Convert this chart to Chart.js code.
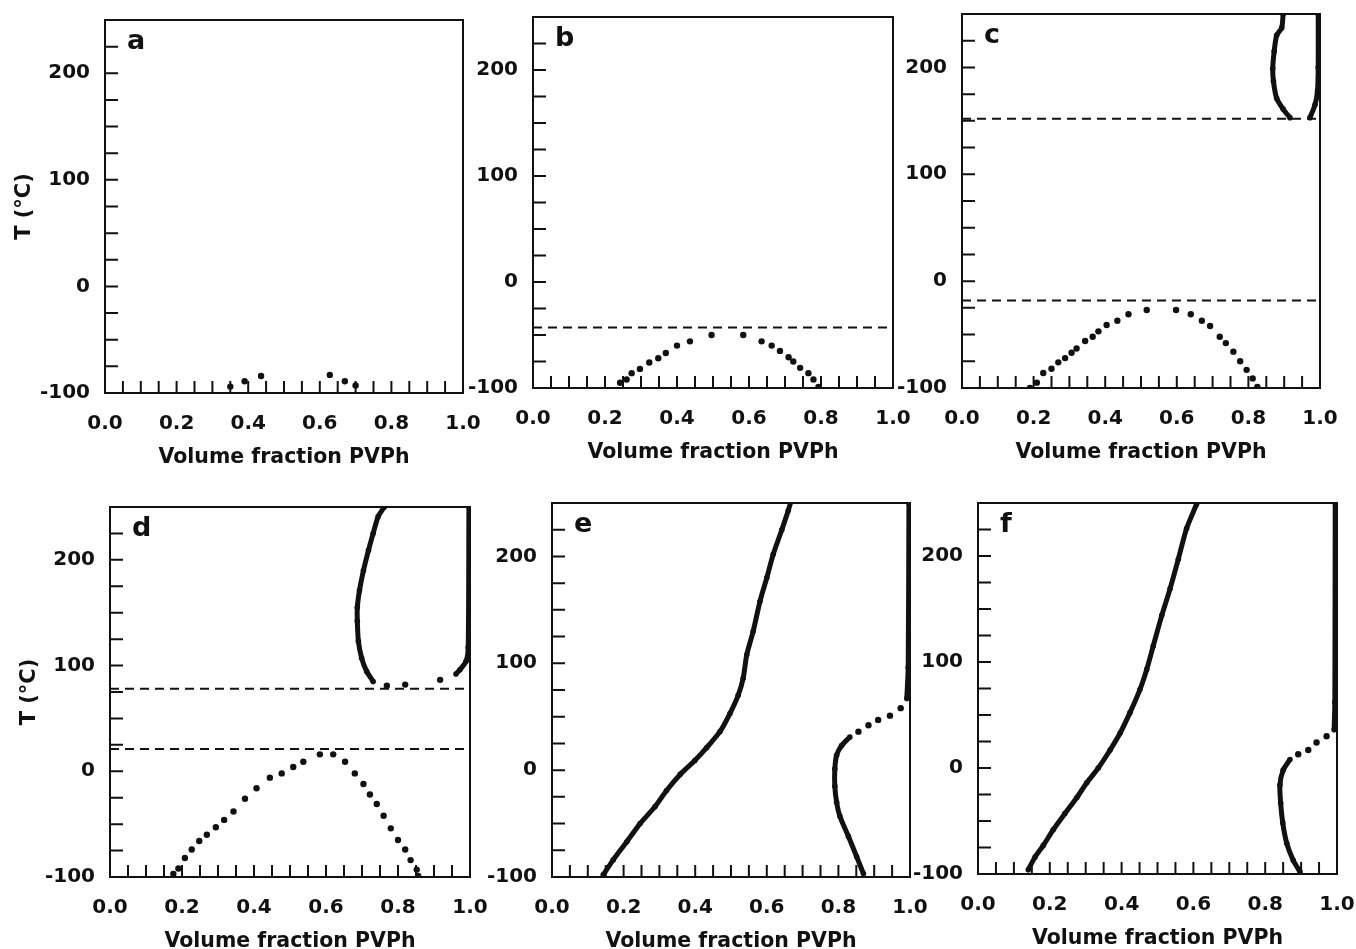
<!DOCTYPE html>
<html>
<head>
<meta charset="utf-8">
<style>
  html, body { margin: 0; padding: 0; background: #fff; width: 1356px; height: 949px; overflow: hidden; }
  canvas { position: absolute; }
</style>
</head>
<body>
<canvas id="pa"></canvas>
<canvas id="pb"></canvas>
<canvas id="pc"></canvas>
<canvas id="pd"></canvas>
<canvas id="pe"></canvas>
<canvas id="pf"></canvas>
<script src="https://cdn.jsdelivr.net/npm/chart.js"></script>
<script>
// values: [volume fraction PVPh, T in °C]
const aDots = [[0.35,-94],[0.39,-89],[0.436,-84],[0.628,-83],[0.67,-89],[0.70,-93]];

const bDots = [[0.242,-95],[0.26,-92],[0.274,-86],[0.297,-82],[0.323,-76],[0.348,-72],[0.369,-67],[0.40,-60],[0.436,-56],[0.496,-50],
  [0.584,-50],[0.635,-56],[0.663,-60],[0.686,-65],[0.71,-71],[0.723,-75],[0.742,-81],[0.765,-86],[0.779,-92],[0.793,-99]];
const bDash = [-43];

const cDots = [[0.19,-100],[0.209,-95],[0.227,-86],[0.25,-82],[0.269,-76],[0.288,-72],[0.306,-67],[0.32,-63],[0.344,-56],[0.365,-52],
  [0.381,-47],[0.404,-41],[0.434,-37],[0.465,-31],[0.516,-27],[0.598,-27],[0.639,-31],[0.67,-37],[0.693,-42],[0.72,-52],
  [0.737,-58],[0.758,-66],[0.777,-75],[0.795,-83],[0.812,-91],[0.825,-99]];
const cLeft = [[0.897,250],[0.893,237],[0.879,230],[0.872,215],[0.868,199],[0.87,187],[0.879,171],[0.897,161],[0.916,153]];
const cRight = [[0.972,153],[0.986,165],[0.993,178],[0.995,200],[0.995,250]];
const cDash = [152, -18];

const dDots = [[0.176,-97],[0.19,-92],[0.208,-82],[0.227,-74],[0.248,-66],[0.269,-60],[0.294,-53],[0.317,-46],[0.343,-38],[0.375,-26],
  [0.407,-16],[0.444,-6],[0.477,-2],[0.509,4],[0.537,9],[0.583,16],[0.62,16],[0.653,9],[0.68,-2],[0.704,-12],
  [0.722,-22],[0.741,-31],[0.76,-42],[0.78,-54],[0.80,-65],[0.82,-74],[0.835,-84],[0.852,-93],[0.856,-99]];
const dLeft = [[0.762,250],[0.745,241],[0.731,225],[0.718,209],[0.704,190],[0.693,171],[0.687,155],[0.687,142],[0.69,123],
  [0.699,107],[0.713,94.5],[0.731,85]];
const dMid = [[0.769,81],[0.82,82],[0.917,86.5]];
const dRight = [[0.961,92],[0.972,96],[0.989,104],[0.995,117],[0.997,250]];
const dDash = [78, 21];

const eMain = [[0.143,-98],[0.171,-84],[0.209,-67],[0.246,-50],[0.288,-34],[0.32,-19],[0.358,-4],[0.399,9],[0.432,21],[0.469,36],
  [0.497,53],[0.52,70],[0.534,86],[0.544,108],[0.562,130],[0.581,158],[0.60,180],[0.618,202],[0.642,225],[0.66,243],[0.667,251]];
const eRight = [[0.87,-97],[0.851,-81],[0.828,-62],[0.804,-43],[0.795,-30],[0.79,-15],[0.79,1],[0.795,14],[0.809,23],[0.832,31]];
const eBridge = [[0.856,36],[0.884,42],[0.911,47],[0.944,51],[0.974,58]];
const eTop = [[0.991,67],[0.995,96],[0.997,250]];

const fMain = [[0.14,-96],[0.159,-84],[0.182,-73],[0.21,-58],[0.242,-43],[0.275,-28],[0.303,-14],[0.335,0],[0.368,17],[0.396,33],
  [0.423,52],[0.451,74],[0.47,93],[0.488,115],[0.512,144],[0.535,169],[0.558,197],[0.581,226],[0.609,249]];
const fRight = [[0.897,-98],[0.878,-87],[0.86,-71],[0.849,-52],[0.843,-33],[0.841,-16],[0.85,-2],[0.869,8]];
const fBridge = [[0.892,13],[0.92,17],[0.943,24],[0.971,30]];
const fTop = [[0.992,36],[0.994,62],[0.995,250]];

const FONT = 'DejaVu Sans';
const INK = '#111';
const PAD_R = 30;

const xy = arr => arr.map(p => ({ x: p[0], y: p[1] }));
const dots = arr => ({ data: xy(arr), showLine: false, pointRadius: 3.2, pointBackgroundColor: INK, pointBorderWidth: 0 });
const curve = arr => ({ data: xy(arr), showLine: true, borderColor: INK, borderWidth: 5, pointRadius: 2.8,
  pointBackgroundColor: INK, pointBorderWidth: 0, tension: 0.25 });
const dash = y => ({ data: [{ x: 0, y: y }, { x: 1, y: y }], showLine: true, borderColor: INK, borderWidth: 2,
  borderDash: [9, 6], pointRadius: 0 });

const noPad = s => { s.paddingLeft = 0; s.paddingRight = 0; s.paddingTop = 0; s.paddingBottom = 0; };

// frame, inward ticks and panel letter
const framePlugin = {
  id: 'frame',
  afterDraw(chart) {
    const ctx = chart.ctx, a = chart.chartArea;
    const sx = chart.scales.x, sy = chart.scales.y;
    ctx.save();
    ctx.strokeStyle = INK;
    ctx.lineWidth = 2;
    ctx.strokeRect(a.left, a.top, a.right - a.left, a.bottom - a.top);
    ctx.beginPath();
    sx.ticks.forEach(t => {
      const px = sx.getPixelForValue(t.value);
      ctx.moveTo(px, a.bottom); ctx.lineTo(px, a.bottom - 12);
    });
    sy.ticks.forEach(t => {
      const py = sy.getPixelForValue(t.value);
      if (py < a.top + 2) return;
      ctx.moveTo(a.left, py); ctx.lineTo(a.left + 13, py);
    });
    ctx.stroke();
    ctx.fillStyle = INK;
    ctx.font = 'bold 27px ' + FONT;
    ctx.textBaseline = 'alphabetic';
    ctx.fillText(chart.options.plugins.frame.letter, a.left + 22, a.top + 29);
    ctx.restore();
  }
};

function panel(id, box, letter, datasets, yTitle) {
  const padL = box.padL;
  const cv = document.getElementById(id);
  const w = (box.R - box.L) + padL + PAD_R;
  const h = (box.B - box.T) + 4 + 80;
  cv.width = w; cv.height = h;
  cv.style.left = (box.L - padL) + 'px';
  cv.style.top = (box.T - 4) + 'px';
  return new Chart(cv, {
    type: 'scatter',
    data: { datasets: datasets },
    options: {
      responsive: false,
      animation: false,
      layout: { padding: { left: 0, right: PAD_R, top: 4, bottom: 0 } },
      plugins: { legend: { display: false }, tooltip: { enabled: false }, frame: { letter: letter } },
      scales: {
        x: {
          type: 'linear', min: 0, max: 1,
          afterFit: s => { s.height = 80; noPad(s); },
          border: { display: false },
          grid: { display: false },
          ticks: {
            stepSize: 0.05, autoSkip: false, maxRotation: 0, padding: 11, color: INK,
            font: { family: FONT, size: 20, weight: 'bold' },
            callback: v => Math.abs(v * 5 - Math.round(v * 5)) < 1e-6 ? v.toFixed(1) : ''
          },
          title: { display: true, text: 'Volume fraction PVPh', color: INK, padding: { top: 0, bottom: 3 },
            font: { family: FONT, size: 20.5, weight: 'bold' } }
        },
        y: {
          type: 'linear', min: -100, max: 250,
          afterFit: s => { s.width = padL; noPad(s); },
          border: { display: false },
          grid: { display: false },
          ticks: {
            stepSize: 25, autoSkip: false, padding: 7, color: INK,
            font: { family: FONT, size: 20, weight: 'bold' },
            callback: v => (v % 100 === 0 ? String(v) : '')
          },
          title: { display: !!yTitle, text: yTitle || '', color: INK, padding: { top: box.tPad || 0, bottom: 0 },
            font: { family: FONT, size: 21, weight: 'bold' } }
        }
      }
    },
    plugins: [framePlugin]
  });
}

panel('pa', { L: 105, T: 20, R: 463, B: 393, padL: 105, tPad: 12 }, 'a', [dots(aDots)], 'T (°C)');
panel('pb', { L: 533, T: 17, R: 893, B: 388, padL: 68 }, 'b', [dash(bDash[0]), dots(bDots)]);
panel('pc', { L: 962, T: 14, R: 1320, B: 388, padL: 68 }, 'c',
  [dash(cDash[0]), dash(cDash[1]), dots(cDots), curve(cLeft), curve(cRight)]);
panel('pd', { L: 110, T: 507, R: 470, B: 877, padL: 110, tPad: 17 }, 'd',
  [dash(dDash[0]), dash(dDash[1]), dots(dDots), curve(dLeft), dots(dMid), curve(dRight)], 'T (°C)');
panel('pe', { L: 552, T: 503, R: 910, B: 877, padL: 68 }, 'e', [curve(eMain), curve(eRight), dots(eBridge), curve(eTop)]);
panel('pf', { L: 978, T: 503, R: 1337, B: 874, padL: 68 }, 'f', [curve(fMain), curve(fRight), dots(fBridge), curve(fTop)]);
</script>
</body>
</html>
